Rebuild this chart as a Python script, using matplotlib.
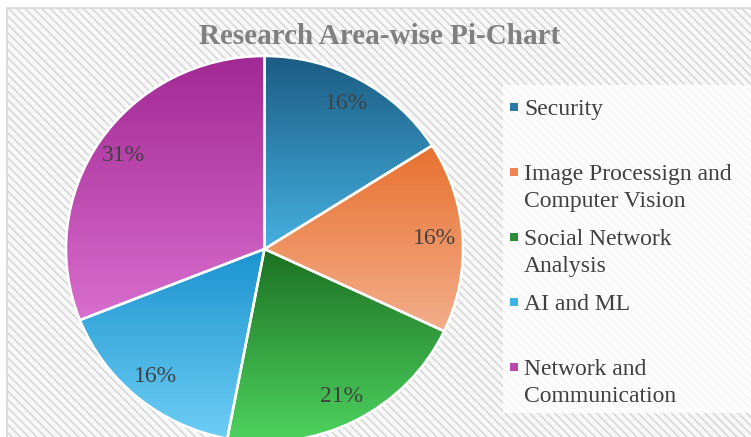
import numpy as np
import matplotlib
matplotlib.use('Agg')
import matplotlib.pyplot as plt
from matplotlib.colors import to_rgb
from matplotlib.patches import Rectangle

# Chart data
areas = ['Security', 'Image Processign and\nComputer Vision', 'Social Network\nAnalysis',
         'AI and ML', 'Network and\nCommunication']
shares = [16, 16, 21, 16, 31]

# Gradient colours per slice (top -> bottom) and legend swatches
top_colors = ['#1B5C83', '#E8712F', '#1C7022', '#1C93CF', '#A12893']
bottom_colors = ['#45B0E0', '#F3AE8B', '#4FD661', '#6DCEF5', '#D86ECD']
swatch_colors = ['#2A78A3', '#EE8550', '#2E8B3A', '#3DB4E6', '#B848AE']

serif = 'Liberation Serif'
text_color = '#404040'

plt.rcParams['hatch.color'] = '#E0E0E0'
plt.rcParams['hatch.linewidth'] = 1.1

W, H = 751, 437
fig = plt.figure(figsize=(W / 100, H / 100), dpi=100)
fig.patch.set_facecolor('white')

# Striped chart background with thin frame
bg = Rectangle((7 / W, -0.01), 1.0, 1 - 8 / H + 0.01, transform=fig.transFigure,
               facecolor='#F8F8F8', edgecolor='#D6D6D6', hatch='\\\\\\\\', linewidth=1.2, zorder=-5)
fig.patches.append(bg)

# Pie axes (slightly wider than tall, like the reference)
ax = fig.add_axes([66 / W, (H - 442) / H, 397 / W, 386 / H])
ax.set_facecolor('none')
wedges, _, autotexts = ax.pie(shares, startangle=90, counterclock=False,
                              autopct='%1.0f%%', pctdistance=0.86,
                              wedgeprops=dict(edgecolor='white', linewidth=1.8),
                              textprops=dict(fontsize=17, color=text_color, family=serif))

# Vertical gradient inside each slice
ramp = np.linspace(0, 1, 256)[:, None]
for w, c_top, c_bot in zip(wedges, top_colors, bottom_colors):
    v = w.get_path().vertices
    x0, x1 = v[:, 0].min(), v[:, 0].max()
    y0, y1 = v[:, 1].min(), v[:, 1].max()
    grad = (1 - ramp)[..., None] * np.array(to_rgb(c_top)) + ramp[..., None] * np.array(to_rgb(c_bot))
    grad = np.repeat(grad, 2, axis=1)
    im = ax.imshow(grad, extent=[x0, x1, y0, y1], origin='upper', aspect='auto',
                   interpolation='bilinear', zorder=1)
    im.set_clip_path(w)
    w.set_facecolor('none')
    w.set_zorder(2)
for t in autotexts:
    t.set_zorder(4)

ax.set_aspect('auto')
ax.set_xlim(-1.0, 1.0)
ax.set_ylim(-1.0, 1.0)
ax.axis('off')

# Title
fig.text(380 / W, 1 - 37 / H, 'Research Area-wise Pi-Chart', ha='center', va='center',
         fontsize=21, fontweight='bold', color='#808080', family=serif)

# Legend panel (pixel overlay)
lax = fig.add_axes([0, 0, 1, 1])
lax.set_xlim(0, W)
lax.set_ylim(H, 0)
lax.axis('off')
lax.add_patch(Rectangle((503, 85), 260, 328, facecolor='white', alpha=0.8, edgecolor='none'))
for i, (label, col) in enumerate(zip(areas, swatch_colors)):
    y = 107 + i * 65
    lax.scatter([514], [y], marker='s', s=28, color=col, edgecolors='none')
    lax.text(524, y - 8, label, ha='left', va='top', fontsize=17,
             color=text_color, family=serif, linespacing=1.4)

fig.savefig('out.png', dpi=100, facecolor=fig.get_facecolor())
